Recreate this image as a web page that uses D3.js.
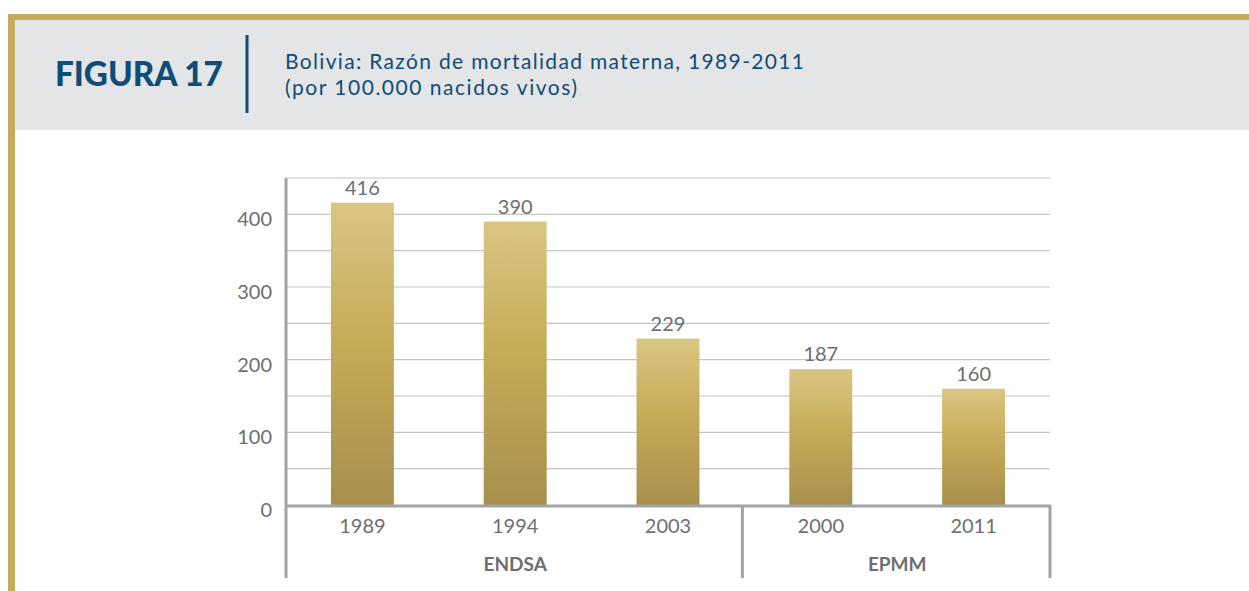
<!DOCTYPE html>
<html><head><meta charset="utf-8">
<script src="https://cdn.jsdelivr.net/npm/d3@7"></script>
<style>body{margin:0;background:#fff;}svg{display:block;}</style>
</head><body>
<svg id="c" width="1249" height="591"></svg>
<script>
const years = ["1989","1994","2003","2000","2011"];
const groups = ["ENDSA","ENDSA","ENDSA","EPMM","EPMM"];
const values = [416,390,229,187,160];
const yTicks = [0,100,200,300,400];
const gridValues = [0,50,100,150,200,250,300,350,400,450];
const groupNames = ["ENDSA","EPMM"];
const figLabel = "FIGURA 17";
const titleLines = ["Bolivia: Razón de mortalidad materna, 1989-2011","(por 100.000 nacidos vivos)"];

const svg = d3.select("#c");
const font = "Lato, 'Open Sans', sans-serif";
const blue = "#0f4c78", gray = "#6d6e71", axisGray = "#a2a3a6";

// frame
svg.append("rect").attr("x",15).attr("y",20).attr("width",1234).attr("height",110).attr("fill","#e4e5e7");
svg.append("rect").attr("x",8).attr("y",14).attr("width",1241).attr("height",6).attr("fill","#c4aa5c");
svg.append("rect").attr("x",8).attr("y",14).attr("width",7).attr("height",577).attr("fill","#c4aa5c");

function fit(t, w){ const l=t.node().getComputedTextLength(); if(l>0){ const fs=parseFloat(t.attr("font-size")); t.attr("font-size", fs*w/l);} }

const fl = svg.append("text").attr("x",55).attr("y",86).attr("font-family",font).attr("font-weight",900)
  .attr("font-size",33).attr("fill",blue).text(figLabel);
fit(fl,168);
svg.append("rect").attr("x",245.5).attr("y",35).attr("width",3).attr("height",78).attr("fill",blue);
const tw = [519, 292];
titleLines.forEach((s,i)=>{
  svg.append("text").attr("x",285).attr("y",69+i*26).attr("font-family",font)
    .attr("font-size",21).attr("fill",blue)
    .attr("textLength",tw[i]).attr("lengthAdjust","spacing").text(s);
});

// chart
const x0 = 286, x1 = 1050, yb = 505, yt = 178;
const x = d3.scaleBand().domain(d3.range(values.length)).range([x0,x1]).paddingInner(0.588).paddingOuter(0.294);
const y = d3.scaleLinear().domain([0,450]).range([yb,yt]);

svg.append("g").selectAll("line").data(gridValues.slice(1)).join("line")
  .attr("x1",x0).attr("x2",x1).attr("y1",d=>y(d)).attr("y2",d=>y(d))
  .attr("stroke","#c4c4c6").attr("stroke-width",1.2);

const grad = svg.append("defs").append("linearGradient").attr("id","g").attr("x1",0).attr("y1",0).attr("x2",0).attr("y2",1);
grad.append("stop").attr("offset","0%").attr("stop-color","#dac683");
grad.append("stop").attr("offset","45%").attr("stop-color","#c6ab58");
grad.append("stop").attr("offset","100%").attr("stop-color","#a88f4c");

svg.append("g").selectAll("rect").data(values).join("rect")
  .attr("x",(d,i)=>x(i)).attr("width",x.bandwidth()).attr("y",d=>y(d)).attr("height",d=>yb-y(d))
  .attr("fill","url(#g)");

svg.append("g").selectAll("text").data(values).join("text")
  .attr("x",(d,i)=>x(i)+x.bandwidth()/2).attr("y",d=>y(d)-8).attr("text-anchor","middle")
  .attr("font-family",font).attr("font-size",20).attr("fill",gray).text(d=>d);

// y axis labels
svg.append("g").selectAll("text").data(yTicks).join("text")
  .attr("x",272).attr("y",d=>y(d)+12).attr("text-anchor","end")
  .attr("font-family",font).attr("font-size",20).attr("fill",gray).text(d=>d);

// axes lines
svg.append("line").attr("x1",x0).attr("x2",x0).attr("y1",yt).attr("y2",578).attr("stroke",axisGray).attr("stroke-width",3);
svg.append("line").attr("x1",x0).attr("x2",x1+1).attr("y1",yb+1).attr("y2",yb+1).attr("stroke",axisGray).attr("stroke-width",3);
// group separators
const sepIdx = [3];
sepIdx.forEach(i=>{
  const sx = (x(i-1)+x.bandwidth()+x(i))/2 - 2;
  svg.append("line").attr("x1",sx).attr("x2",sx).attr("y1",yb).attr("y2",578).attr("stroke",axisGray).attr("stroke-width",3);
});
svg.append("line").attr("x1",x1).attr("x2",x1).attr("y1",yb).attr("y2",578).attr("stroke",axisGray).attr("stroke-width",3);

// year labels
svg.append("g").selectAll("text").data(years).join("text")
  .attr("x",(d,i)=>x(i)+x.bandwidth()/2).attr("y",533).attr("text-anchor","middle")
  .attr("font-family",font).attr("font-size",20).attr("fill",gray).text(d=>d);

// group labels
groupNames.forEach(g=>{
  const idx = groups.map((v,i)=>v===g?i:-1).filter(i=>i>=0);
  const cx = (x(idx[0]) + x(idx[idx.length-1]) + x.bandwidth())/2;
  svg.append("text").attr("x",cx).attr("y",571).attr("text-anchor","middle")
    .attr("font-family",font).attr("font-weight",700).attr("font-size",19).attr("fill",gray).text(g);
});
</script>
</body></html>
